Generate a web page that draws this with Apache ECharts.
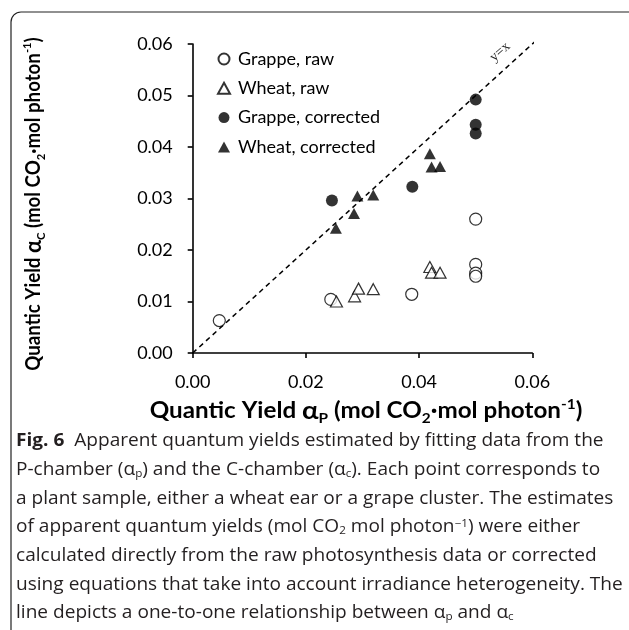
<!DOCTYPE html>
<html>
<head>
<meta charset="utf-8">
<script src="https://cdn.jsdelivr.net/npm/echarts@6/dist/echarts.min.js"></script>
<style>html,body{margin:0;padding:0;background:#fff}#c{width:629px;height:630px}</style>
</head>
<body>
<div id="c"></div>
<script>
// ---- data ----
var grappeRawX = [0.0047, 0.0244, 0.0387, 0.0500, 0.0500, 0.0500, 0.0500];
var grappeRawY = [0.0063, 0.0104, 0.0114, 0.0260, 0.0172, 0.0155, 0.0149];
var wheatRawX = [0.0254, 0.0286, 0.0293, 0.0319, 0.0419, 0.0422, 0.0437];
var wheatRawY = [0.0100, 0.0110, 0.0125, 0.0124, 0.0167, 0.0156, 0.0156];
var grappeCorrX = [0.0246, 0.0388, 0.0500, 0.0500, 0.0500];
var grappeCorrY = [0.0296, 0.0323, 0.0492, 0.0443, 0.0426];
var wheatCorrX = [0.0253, 0.0285, 0.0291, 0.0319, 0.0419, 0.0422, 0.0437];
var wheatCorrY = [0.0242, 0.0271, 0.0305, 0.0307, 0.0387, 0.0361, 0.0362];
var oneToOne = [0, 0.0606];
var seriesNames = ['Grappe, raw', 'Wheat, raw', 'Grappe, corrected', 'Wheat, corrected'];
var xTicks = [0, 0.02, 0.04, 0.06];
var yTicks = [0, 0.01, 0.02, 0.03, 0.04, 0.05, 0.06];

function pairs(xs, ys) { return xs.map(function (x, i) { return [x, ys[i]]; }); }

var axisFont = 'Lato';
var capFont = 'Open Sans';
var chart = echarts.init(document.getElementById('c'), null, { renderer: 'canvas' });

function titleRich(fs) {
  return {
    b: { fontFamily: axisFont, fontWeight: 'bold', fontSize: fs, fill: '#000', lineHeight: fs + 6, verticalAlign: 'middle' },
    a: { fontFamily: axisFont, fontWeight: 'bold', fontSize: fs + 3, fill: '#000', lineHeight: fs + 6, verticalAlign: 'middle' },
    sub: { fontFamily: axisFont, fontWeight: 'bold', fontSize: Math.round(fs * 0.62), fill: '#000', verticalAlign: 'bottom', lineHeight: Math.round(fs * 0.62) },
    sup: { fontFamily: axisFont, fontWeight: 'bold', fontSize: Math.round(fs * 0.62), fill: '#000', verticalAlign: 'top', lineHeight: Math.round(fs * 0.62) }
  };
}

var capRich = {
  t: { fontFamily: capFont, fontSize: 18, fill: '#231f20' },
  f: { fontFamily: capFont, fontSize: 18, fontWeight: 'bold', fill: '#231f20' },
  s: { fontFamily: capFont, fontSize: 11, fill: '#231f20', verticalAlign: 'bottom', lineHeight: 11 },
  u: { fontFamily: capFont, fontSize: 11, fill: '#231f20', verticalAlign: 'top', lineHeight: 11 }
};

var capLines = [
  '{f|Fig. 6}{t|  Apparent quantum yields estimated by fitting data from the}',
  '{t|P-chamber (α}{s|p}{t|) and the C-chamber (α}{s|c}{t|). Each point corresponds to}',
  '{t|a plant sample, either a wheat ear or a grape cluster. The estimates}',
  '{t|of apparent quantum yields (mol CO}{s|2}{t| mol photon}{u|−1}{t|) were either}',
  '{t|calculated directly from the raw photosynthesis data or corrected}',
  '{t|using equations that take into account irradiance heterogeneity. The}',
  '{t|line depicts a one-to-one relationship between α}{s|p}{t| and α}{s|c}'
];
var capY = [441, 470, 499, 527, 556, 585, 613];

var xTitle = '{b|Quantic Yield }{a|α}{sub|P}{b| (mol CO}{sub|2}{b|·mol photon}{sup|-1}{b|)}';
var yTitle = '{b|Quantic Yield }{a|α}{sub|C}{b| (mol CO}{sub|2}{b|·mol photon}{sup|-1}{b|)}';

var graphics = [
  { type: 'rect', shape: { x: 11, y: 12, width: 700, height: 700, r: [10, 0, 0, 0] }, style: { fill: 'none', stroke: '#222', lineWidth: 1.2 }, z: 0 },
  { type: 'text', x: 500, y: 52, rotation: 42 * Math.PI / 180, style: { text: 'y=x', fontFamily: 'Liberation Serif', fontSize: 14, fill: '#222', align: 'center', verticalAlign: 'middle' } },
  { type: 'text', x: 366, y: 411, scaleX: 1.1, style: { text: xTitle, rich: titleRich(22), align: 'center', verticalAlign: 'middle' } },
  { type: 'text', x: 34, y: 204, rotation: Math.PI / 2, scaleX: 0.935, style: { text: yTitle, rich: titleRich(20), align: 'center', verticalAlign: 'middle' } }
];
capLines.forEach(function (t, i) {
  graphics.push({ type: 'text', x: 16, y: capY[i], scaleX: 1.06, style: { text: t, rich: capRich, verticalAlign: 'middle', align: 'left' } });
});

var openStyle = { color: '#fff', borderColor: '#000', borderWidth: 1.2 };
var fillStyle = { color: '#000', borderColor: '#000', borderWidth: 0 };

chart.setOption({
  animation: false,
  backgroundColor: '#fff',
  grid: { left: 192.7, right: 96.7, top: 44, bottom: 277, containLabel: false },
  legend: {
    orient: 'vertical', left: 212, top: 45, itemWidth: 12, itemHeight: 11, itemGap: 11.3,
    textStyle: { fontFamily: axisFont, fontSize: 18, color: '#000', padding: [0, 0, 0, 3] },
    data: seriesNames
  },
  xAxis: {
    type: 'value', min: 0, max: 0.06, interval: 0.02,
    axisLine: { lineStyle: { color: '#000', width: 1.6 } },
    axisTick: { show: true, inside: false, length: 5, lineStyle: { color: '#000', width: 1.6 } },
    splitLine: { show: false },
    axisLabel: { margin: 20, fontFamily: axisFont, fontSize: 18, color: '#000', formatter: function (v) { return v.toFixed(2); } }
  },
  yAxis: {
    type: 'value', min: 0, max: 0.06, interval: 0.01,
    axisLine: { show: true, lineStyle: { color: '#000', width: 1.6 } },
    axisTick: { show: true, inside: false, length: 5, lineStyle: { color: '#000', width: 1.6 } },
    splitLine: { show: false },
    axisLabel: { margin: 20, fontFamily: axisFont, fontSize: 18, color: '#000', formatter: function (v) { return v.toFixed(2); } }
  },
  series: [
    { type: 'line', data: pairs(oneToOne, oneToOne), showSymbol: false, symbol: 'none', clip: false,
      lineStyle: { color: '#000', width: 1.5, type: [5, 4] }, silent: true, z: 1 },
    { name: seriesNames[0], type: 'scatter', symbol: 'circle', symbolSize: 12, data: pairs(grappeRawX, grappeRawY), itemStyle: openStyle, z: 3 },
    { name: seriesNames[1], type: 'scatter', symbol: 'triangle', symbolSize: [12, 11], data: pairs(wheatRawX, wheatRawY), itemStyle: openStyle, z: 3 },
    { name: seriesNames[2], type: 'scatter', symbol: 'circle', symbolSize: 12, data: pairs(grappeCorrX, grappeCorrY), itemStyle: fillStyle, z: 3 },
    { name: seriesNames[3], type: 'scatter', symbol: 'triangle', symbolSize: [12, 11], data: pairs(wheatCorrX, wheatCorrY), itemStyle: fillStyle, z: 3 }
  ],
  graphic: graphics
});
</script>
</body>
</html>
